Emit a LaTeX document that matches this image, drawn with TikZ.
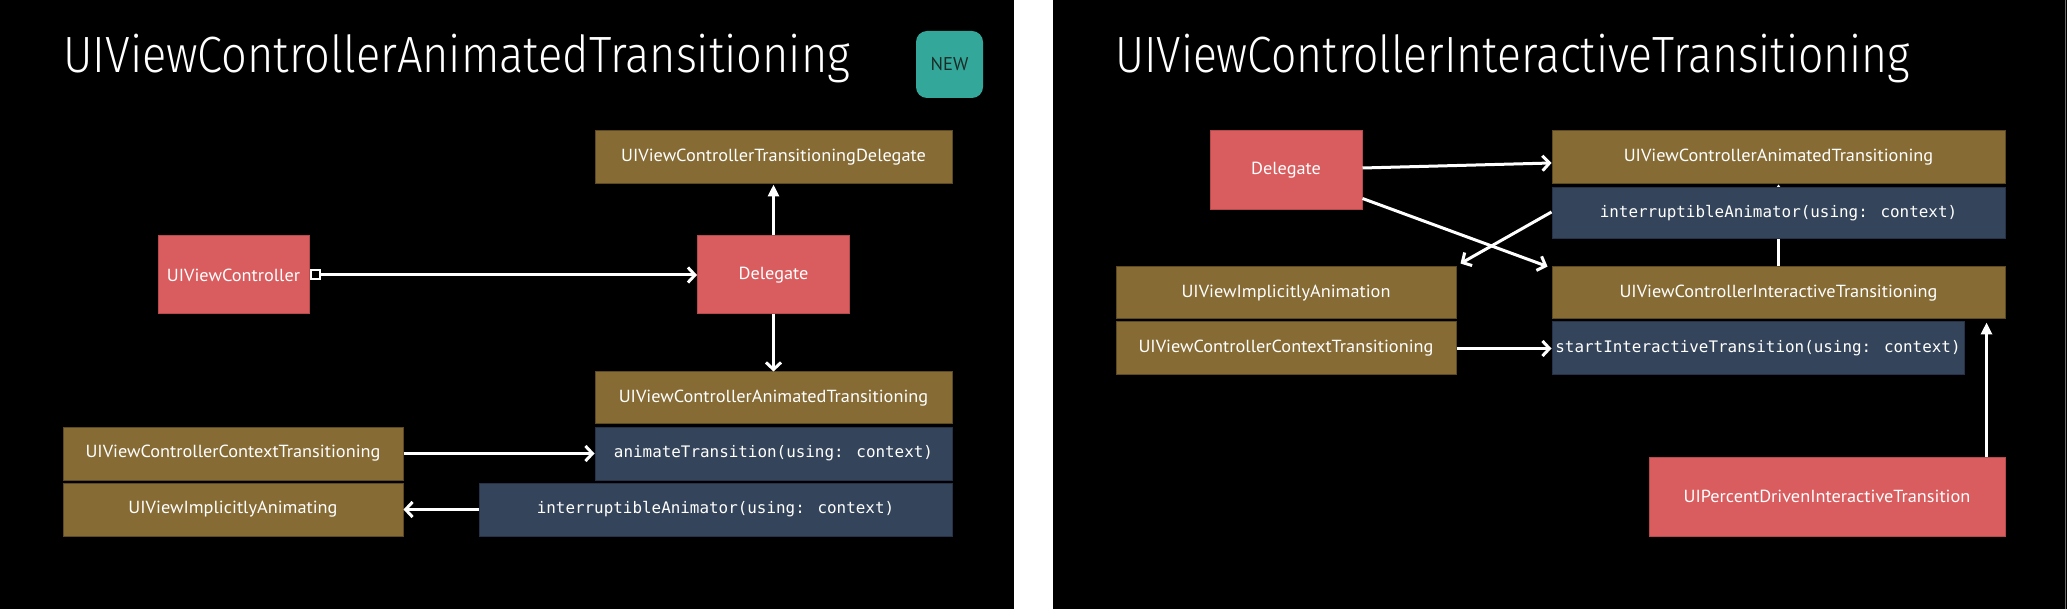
\documentclass[tikz,border=0pt]{standalone}
\usepackage{fontspec}
\usetikzlibrary{arrows.meta}
\newfontfamily\titlefont{Fira Sans Light}[FakeStretch=0.885]
\newfontfamily\titlefontb{Fira Sans Light}[FakeStretch=0.872]
\newfontfamily\boxfont{PT Sans}[FakeStretch=1.045]
\newfontfamily\badgefont{PT Sans}
\newfontfamily\codefont{DejaVu Sans Mono}
\definecolor{cbrown}{HTML}{866B35}
\definecolor{cbrownd}{HTML}{5E4A22}
\definecolor{cred}{HTML}{D95C5E}
\definecolor{credd}{HTML}{B84A4C}
\definecolor{cblue}{HTML}{34445A}
\definecolor{cblued}{HTML}{26324A}
\definecolor{cteal}{HTML}{33A89A}
\definecolor{cnew}{HTML}{1A2B28}
\definecolor{cedge}{HTML}{6A6A6A}
\begin{document}
\begin{tikzpicture}[x=1pt,y=-1pt,
  box/.style={rectangle, inner sep=0pt, text=white, line width=1pt,
    font=\boxfont\fontsize{17.5}{20}\selectfont},
  brownbox/.style={box, fill=cbrown, draw=cbrownd},
  redbox/.style={box, fill=cred, draw=credd},
  bluebox/.style={box, fill=cblue, draw=cblued,
    font=\codefont\fontsize{15.9}{18}\selectfont},
  titlestyle/.style={anchor=base west, inner sep=0pt, text=white,
    font=\titlefont\fontsize{51}{60}\selectfont},
  titlestyleb/.style={titlestyle, font=\titlefontb\fontsize{51}{60}\selectfont},
  conn/.style={draw=white, line width=3pt},
  barb/.style={conn, -{Straight Barb[length=7pt,width=15pt]}},
  tri/.style={conn, -{Triangle[length=12pt,width=11pt]}},
  smalltri/.style={conn, -{Triangle[length=6pt,width=8pt]}},
]
\useasboundingbox (0,0) rectangle (2067,609);
\fill[black] (0,0) rectangle (2067,609);
\fill[white] (1014,0) rectangle (1053,609);
\draw[cedge, line width=1pt] (2065.5,0) -- (2065.5,609);

% ---------------- left panel ----------------
\node[titlestyle] (t1) at (63,73) {UIViewControllerAnimatedTransitioning};
\node[rectangle, rounded corners=11pt, fill=cteal, minimum width=67pt, minimum height=67pt,
  inner sep=0pt, text=cnew, font=\badgefont\fontsize{18.5}{20}\selectfont] (new) at (949.5,64.5) {NEW};

\node[brownbox, minimum width=357pt, minimum height=53pt] (tdel) at (773.5,157.5) {UIViewControllerTransitioningDelegate};
\node[redbox, minimum width=151pt, minimum height=78pt] (vc) at (233.5,275) {UIViewController};
\node[redbox, minimum width=152pt, minimum height=78pt] (del) at (773.5,275) {Delegate};
\node[brownbox, minimum width=357pt, minimum height=52pt] (anim) at (773.5,398) {UIViewControllerAnimatedTransitioning};
\node[bluebox, minimum width=357pt, minimum height=53pt] (animT) at (773.5,453.5) {animateTransition(using: context)};
\node[brownbox, minimum width=340pt, minimum height=53pt] (ctx) at (233,453.5) {UIViewControllerContextTransitioning};
\node[brownbox, minimum width=340pt, minimum height=53pt] (impl) at (233,509.5) {UIViewImplicitlyAnimating};
\node[bluebox, minimum width=473pt, minimum height=53pt] (intA) at (715.5,509.5) {interruptibleAnimator(using: context)};

\node[draw=white, fill=black, line width=2pt, minimum size=9pt, inner sep=0pt] (sq) at (315.5,275) {};
\draw[barb] (sq.east) -- (del.west);
\draw[tri] (del.north) -- (tdel.south);
\draw[barb] (del.south) -- (anim.north);
\draw[barb] (ctx.east) -- (animT.west);
\draw[barb] (intA.west) -- (impl.east);

% ---------------- right panel ----------------
\node[titlestyleb] (t2) at (1115,73) {UIViewControllerInteractiveTransitioning};

\node[redbox, minimum width=152pt, minimum height=79pt] (rdel) at (1286,170.5) {Delegate};
\node[brownbox, minimum width=453pt, minimum height=53pt] (ranim) at (1778.5,157.5) {UIViewControllerAnimatedTransitioning};
\node[brownbox, minimum width=453pt, minimum height=52pt] (rinter) at (1778.5,293) {UIViewControllerInteractiveTransitioning};
\draw[smalltri] (rinter.north) -- (ranim.south);
\node[bluebox, minimum width=453pt, minimum height=51pt] (rint) at (1778.5,213.5) {interruptibleAnimator(using: context)};
\node[brownbox, minimum width=340pt, minimum height=52pt] (rimpl) at (1286,293) {UIViewImplicitlyAnimation};
\node[brownbox, minimum width=340pt, minimum height=53pt] (rctx) at (1286,348.5) {UIViewControllerContextTransitioning};
\node[bluebox, minimum width=412pt, minimum height=53pt] (rstart) at (1758,348.5) {startInteractiveTransition(using: context)};
\node[redbox, minimum width=356pt, minimum height=79pt] (rpct) at (1827,496.5) {UIPercentDrivenInteractiveTransition};

\draw[barb] ([yshift=2.5pt]rdel.east) -- ([yshift=-5.5pt]ranim.west);
\draw[barb] ([yshift=12pt]rdel.south east) -- ([xshift=-4pt]rinter.north west);
\draw[barb] ([yshift=1.5pt]rint.west) -- ([xshift=4pt,yshift=3pt]rimpl.north east);
\draw[barb] (rctx.east) -- (rstart.west);
\draw[tri] ([xshift=-19pt]rpct.north east) -- ([xshift=-19pt,yshift=-3pt]rinter.south east);
\end{tikzpicture}
\end{document}
